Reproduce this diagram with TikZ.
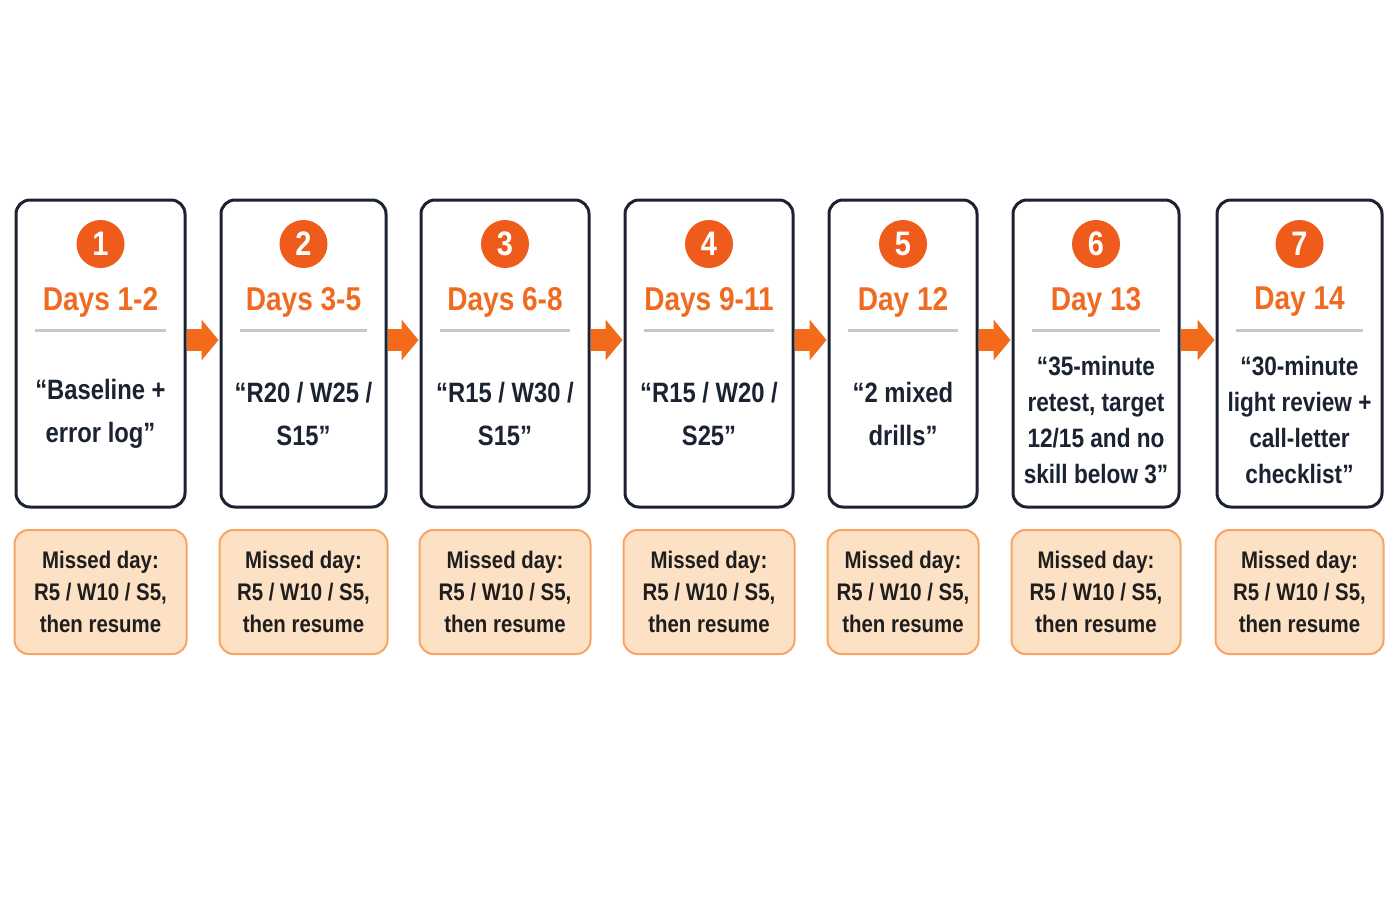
\documentclass[tikz,border=0pt]{standalone}
\usepackage{fontspec}
\usepackage{tikz}
\usetikzlibrary{arrows.meta}
\newfontfamily\condfont{Liberation Sans}[FakeStretch=0.85]
\definecolor{navy}{HTML}{1B2232}
\definecolor{dotorange}{HTML}{EE5B1B}
\definecolor{titleorange}{HTML}{F06B22}
\definecolor{arroworange}{HTML}{F36A1A}
\definecolor{rulegray}{HTML}{C5C9CE}
\definecolor{missfill}{HTML}{FDE1C4}
\definecolor{missline}{HTML}{F6A564}
\definecolor{misstext}{HTML}{1E1E1E}
\tikzset{
  daybox/.style={draw=navy, line width=1.5pt, rounded corners=7pt, fill=white},
  numdot/.style={circle, fill=dotorange, text=white, minimum size=24pt, inner sep=0pt,
    font=\condfont\bfseries\fontsize{17}{17}\selectfont},
  daytitle/.style={text=titleorange, font=\condfont\bfseries\fontsize{16.5}{18}\selectfont},
  dayrule/.style={draw=rulegray, line width=1.5pt},
  missbox/.style={draw=missline, fill=missfill, line width=1pt, rounded corners=7pt,
    align=center, text=misstext, font=\condfont\bfseries\fontsize{12}{16}\selectfont},
  flow/.style={draw=arroworange, line width=11pt, -{Triangle[length=8.5pt,width=20pt]}}
}
\begin{document}
\begin{tikzpicture}[x=0.5pt,y=-0.5pt]
\fill[white] (0,0) rectangle (1400,900);
\useasboundingbox (0,0) rectangle (1400,900);
% one column per stage
\foreach \i/\l/\r/\day/\txt/\fs/\ls/\ty in {
  1/16/185/{Days 1-2}/{“Baseline +\\error log”}/14/21.5/414,
  2/221/386/{Days 3-5}/{“R20 / W25 /\\S15”}/14/21.5/414,
  3/421/589/{Days 6-8}/{“R15 / W30 /\\S15”}/14/21.5/414,
  4/625/793/{Days 9-11}/{“R15 / W20 /\\S25”}/14/21.5/414,
  5/829/977/{Day 12}/{“2 mixed\\drills”}/14/21.5/414,
  6/1013/1179/{Day 13}/{“35-minute\\retest, target\\12/15 and no\\skill below 3”}/13.3/18/420,
  7/1217/1382/{Day 14}/{“30-minute\\light review +\\call-letter\\checklist”}/13.3/18/420}
{
  \node[daybox, minimum width={(\r-\l)*0.5pt}, minimum height=153.5pt] (box\i) at ({(\l+\r)/2},353.5) {};
  \node[numdot] (num\i) at ({(\l+\r)/2},244) {\i};
  \node[daytitle] (title\i) at ({(\l+\r)/2},302) {\day};
  \draw[dayrule] (\l+19,330) -- (\r-19,330);
  \node[align=center, text=navy, font=\condfont\bfseries\fontsize{\fs}{\ls}\selectfont] (body\i) at ({(\l+\r)/2},\ty) {\txt};
  \node[missbox, minimum width={(\r-\l+3)*0.5pt}, minimum height=62pt] (miss\i) at ({(\l+\r)/2},592) {Missed day:\\R5 / W10 / S5,\\then resume};
}
% arrows between stages
\foreach \i [evaluate=\i as \j using int(\i+1)] in {1,...,6}
  \draw[flow] ([yshift=6.75pt]box\i.east) -- ([yshift=6.75pt,xshift=-0.5pt]box\j.west);
\end{tikzpicture}
\end{document}
